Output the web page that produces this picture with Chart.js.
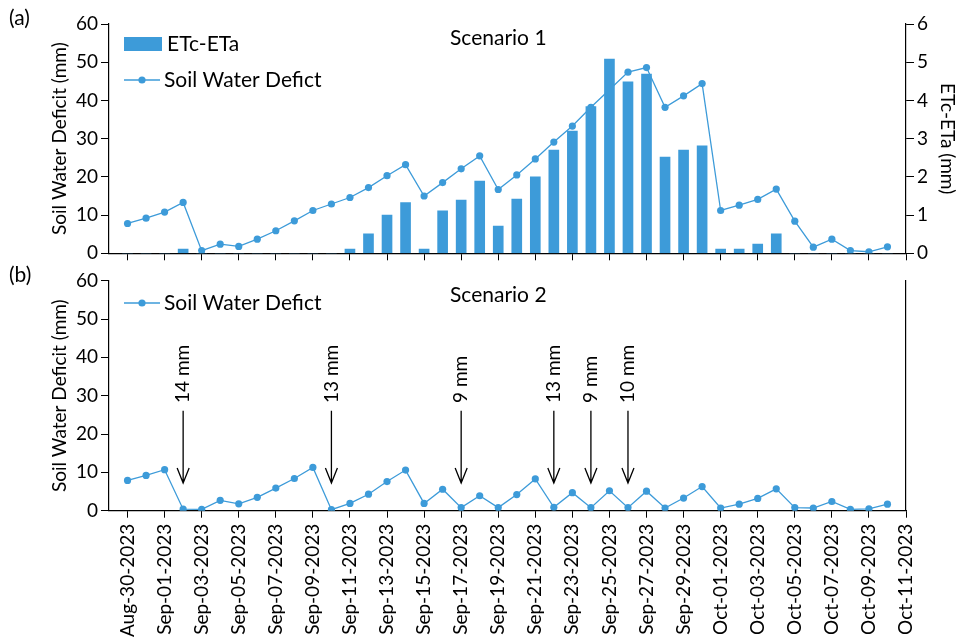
<!DOCTYPE html>
<html>
<head>
<meta charset="utf-8">
<script src="https://cdn.jsdelivr.net/npm/chart.js@4.4.1/dist/chart.umd.min.js"></script>
<style>
  body { margin: 0; background: #fff; }
  #wrap { position: relative; width: 957px; height: 644px; }
  canvas { position: absolute; left: 0; }
  #top { top: 0; }
  #bottom { top: 258px; }
</style>
</head>
<body>
<div id="wrap">
  <canvas id="top" width="957" height="270"></canvas>
  <canvas id="bottom" width="957" height="386"></canvas>
</div>
<script>
// daily dates
const days = [
  'Aug-30-2023', 'Aug-31-2023',
  'Sep-01-2023', 'Sep-02-2023', 'Sep-03-2023', 'Sep-04-2023', 'Sep-05-2023',
  'Sep-06-2023', 'Sep-07-2023', 'Sep-08-2023', 'Sep-09-2023', 'Sep-10-2023',
  'Sep-11-2023', 'Sep-12-2023', 'Sep-13-2023', 'Sep-14-2023', 'Sep-15-2023',
  'Sep-16-2023', 'Sep-17-2023', 'Sep-18-2023', 'Sep-19-2023', 'Sep-20-2023',
  'Sep-21-2023', 'Sep-22-2023', 'Sep-23-2023', 'Sep-24-2023', 'Sep-25-2023',
  'Sep-26-2023', 'Sep-27-2023', 'Sep-28-2023', 'Sep-29-2023', 'Sep-30-2023',
  'Oct-01-2023', 'Oct-02-2023', 'Oct-03-2023', 'Oct-04-2023', 'Oct-05-2023',
  'Oct-06-2023', 'Oct-07-2023', 'Oct-08-2023', 'Oct-09-2023', 'Oct-10-2023'
];

const tickLabels = [
  'Aug-30-2023', 'Sep-01-2023', 'Sep-03-2023', 'Sep-05-2023', 'Sep-07-2023',
  'Sep-09-2023', 'Sep-11-2023', 'Sep-13-2023', 'Sep-15-2023', 'Sep-17-2023',
  'Sep-19-2023', 'Sep-21-2023', 'Sep-23-2023', 'Sep-25-2023', 'Sep-27-2023',
  'Sep-29-2023', 'Oct-01-2023', 'Oct-03-2023', 'Oct-05-2023', 'Oct-07-2023',
  'Oct-09-2023', 'Oct-11-2023'
];

// scenario 1
const swd1 = [
  7.8, 9.2, 10.8, 13.3, 0.7, 2.4, 1.8, 3.7, 5.9, 8.5,
  11.2, 12.9, 14.6, 17.2, 20.3, 23.2, 15.0, 18.5, 22.1, 25.5,
  16.7, 20.5, 24.7, 29.1, 33.3, 38.2, 42.8, 47.4, 48.6, 38.2,
  41.2, 44.4, 11.2, 12.6, 14.1, 16.8, 8.4, 1.6, 3.7, 0.7,
  0.4, 1.7
];
const etcEta = [
  0, 0, 0, 0.11, 0, 0, 0, 0, 0, 0,
  0, 0, 0.11, 0.51, 1.0, 1.33, 0.11, 1.11, 1.39, 1.89,
  0.71, 1.42, 2.0, 2.7, 3.2, 3.84, 5.08, 4.49, 4.69, 2.52,
  2.7, 2.81, 0.11, 0.11, 0.24, 0.51, 0, 0, 0, 0,
  0, 0
];

// scenario 2
const swd2 = [
  7.9, 9.2, 10.7, 0.4, 0.35, 2.7, 1.8, 3.5, 5.9, 8.4,
  11.3, 0.26, 1.9, 4.3, 7.6, 10.6, 1.9, 5.6, 0.8, 3.9,
  0.8, 4.2, 8.3, 0.9, 4.7, 0.8, 5.2, 0.8, 5.1, 0.7,
  3.3, 6.3, 0.7, 1.7, 3.2, 5.7, 0.8, 0.7, 2.4, 0.35,
  0.5, 1.7
];
const irrigDays = ['Sep-02-2023', 'Sep-10-2023', 'Sep-17-2023', 'Sep-22-2023', 'Sep-24-2023', 'Sep-26-2023'];
const irrigLabels = ['14 mm', '13 mm', '9 mm', '13 mm', '9 mm', '10 mm'];

const BLUE = 'rgb(61,155,217)';
const FONT = 'Lato, "Open Sans", sans-serif';

Chart.defaults.font.family = FONT;
Chart.defaults.font.size = 19;
Chart.defaults.color = '#000';

const xy = vals => vals.map((v, i) => ({ x: i, y: v }));

function xScale(showLabels, h) {
  return {
    type: 'linear', min: -1, max: 42, offset: false,
    afterBuildTicks: s => { s.ticks = tickLabels.map((_, i) => ({ value: i * 2 })); },
    afterFit: s => { s.height = h; },
    ticks: {
      display: showLabels, autoSkip: false, maxRotation: 90, minRotation: 90, padding: 6,
      font: { size: 19 },
      callback: v => tickLabels[v / 2]
    },
    grid: { drawOnChartArea: false, tickLength: 7, color: '#000', offset: false },
    border: { color: '#000', width: 1.2 }
  };
}

function yScale(pos, max, step, w, showTicks, title) {
  return {
    type: 'linear', position: pos, min: 0, max: max,
    afterFit: s => { s.width = w; },
    ticks: { display: showTicks, stepSize: step, padding: 3, font: { size: 19 } },
    grid: { drawOnChartArea: false, drawTicks: showTicks, tickLength: 8, color: '#000' },
    border: { color: '#000', width: 1.2 },
    title: {
      display: !!title, text: title || '',
      font: { size: 19, lineHeight: 1.0 },
      padding: { top: pos === 'left' ? 50 : 0, bottom: 0 }
    }
  };
}

const lineStyle = {
  type: 'line', borderColor: BLUE, backgroundColor: BLUE, borderWidth: 1.3,
  pointRadius: 3.6, pointBorderWidth: 0, pointBackgroundColor: BLUE, tension: 0
};

const textPlugin = {
  id: 'texts',
  afterDraw(chart, args, opts) {
    const ctx = chart.ctx;
    ctx.save();
    ctx.fillStyle = '#000';
    ctx.textBaseline = 'middle';
    (opts.items || []).forEach(t => {
      ctx.font = (t.size || 21) + 'px ' + FONT;
      ctx.textAlign = t.align || 'left';
      ctx.fillText(t.text, t.x, t.y);
    });
    // legend
    ctx.font = '21px ' + FONT;
    (opts.legend || []).forEach(l => {
      if (l.kind === 'bar') {
        ctx.fillStyle = BLUE;
        ctx.fillRect(124, l.y - 7, 38, 14);
      } else {
        ctx.strokeStyle = BLUE; ctx.lineWidth = 1.3;
        ctx.beginPath(); ctx.moveTo(124, l.y); ctx.lineTo(160, l.y); ctx.stroke();
        ctx.fillStyle = BLUE;
        ctx.beginPath(); ctx.arc(142, l.y, 3.6, 0, Math.PI * 2); ctx.fill();
      }
      ctx.fillStyle = '#000';
      ctx.textAlign = 'left';
      ctx.fillText(l.text, l.kind === 'bar' ? 167 : 164, l.y);
    });
    // irrigation arrows
    if (opts.arrows) {
      const xs = chart.scales.x, ys = chart.scales.y;
      ctx.font = '19px ' + FONT;
      irrigDays.forEach((d, k) => {
        const px = xs.getPixelForValue(days.indexOf(d));
        const tip = ys.getPixelForValue(7.2);
        const top = ys.getPixelForValue(26.1);
        ctx.strokeStyle = '#000'; ctx.lineWidth = 1.3;
        ctx.beginPath();
        ctx.moveTo(px, top); ctx.lineTo(px, tip);
        ctx.moveTo(px - 6, tip - 15); ctx.lineTo(px, tip); ctx.lineTo(px + 6, tip - 15);
        ctx.stroke();
        ctx.save();
        ctx.translate(px, ys.getPixelForValue(28.1));
        ctx.rotate(-Math.PI / 2);
        ctx.textAlign = 'left';
        ctx.fillText(irrigLabels[k], 0, 0);
        ctx.restore();
      });
    }
    ctx.restore();
  }
};

new Chart(document.getElementById('top'), {
  data: {
    datasets: [
      { type: 'bar', label: 'ETc-ETa', data: xy(etcEta), yAxisID: 'y2', backgroundColor: BLUE, barThickness: 10, order: 0 },
      Object.assign({ label: 'Soil Water Defict', data: xy(swd1), yAxisID: 'y', order: 1 }, lineStyle)
    ]
  },
  options: {
    responsive: false, animation: false,
    layout: { padding: { top: 24, left: 0, right: 0, bottom: 0 } },
    plugins: {
      legend: { display: false }, tooltip: { enabled: false },
      texts: {
        items: [
          { text: '(a)', x: 9, y: 18, size: 21 },
          { text: 'Scenario 1', x: 450, y: 38 }
        ],
        legend: [
          { kind: 'bar', text: 'ETc-ETa', y: 44 },
          { kind: 'line', text: 'Soil Water Defict', y: 80 }
        ]
      }
    },
    scales: {
      x: xScale(false, 16.7),
      y: yScale('left', 60, 10, 109, true, 'Soil Water Deficit (mm)'),
      y2: yScale('right', 6, 1, 51, true, 'ETc-ETa (mm)')
    }
  },
  plugins: [textPlugin]
});

new Chart(document.getElementById('bottom'), {
  data: {
    datasets: [
      Object.assign({ label: 'Soil Water Defict', data: xy(swd2), yAxisID: 'y' }, lineStyle)
    ]
  },
  options: {
    responsive: false, animation: false,
    layout: { padding: { top: 22.7, left: 0, right: 0, bottom: 0 } },
    plugins: {
      legend: { display: false }, tooltip: { enabled: false },
      texts: {
        items: [
          { text: '(b)', x: 9, y: 17, size: 21 },
          { text: 'Scenario 2', x: 450, y: 37 }
        ],
        legend: [
          { kind: 'line', text: 'Soil Water Defict', y: 45 }
        ],
        arrows: true
      }
    },
    scales: {
      x: xScale(true, 133.3),
      y: yScale('left', 60, 10, 109, true, 'Soil Water Deficit (mm)'),
      y2: yScale('right', 60, 10, 51, false, '')
    }
  },
  plugins: [textPlugin]
});
</script>
</body>
</html>
